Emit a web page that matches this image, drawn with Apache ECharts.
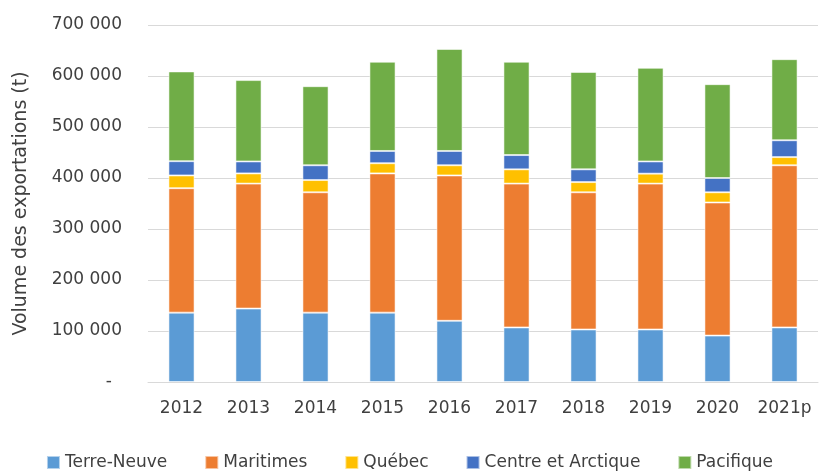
<!DOCTYPE html>
<html>
<head>
<meta charset="utf-8">
<script src="https://cdn.jsdelivr.net/npm/echarts@6/dist/echarts.min.js"></script>
<style>
  html, body { margin: 0; padding: 0; background: #fff; }
  #main { width: 819px; height: 471px; }
</style>
</head>
<body>
<div id="main"></div>
<script>
// années (2021p = provisoire)
const years = ['2012', '2013', '2014', '2015', '2016', '2017', '2018', '2019', '2020', '2021p'];

// volumes en tonnes
const terreNeuve = [136000, 144000, 136000, 136000, 120000, 107000, 103000, 103000, 91000, 107000];
const maritimes  = [244000, 245000, 236000, 273000, 285000, 282000, 269000, 286000, 261000, 318000];
const quebec     = [25000, 20000, 24000, 20000, 20000, 28000, 20000, 19500, 20000, 16000];
const centreArctique = [28000, 23500, 29000, 24000, 28000, 28000, 25000, 24000, 28000, 33000];
const pacifique  = [176000, 159500, 155000, 175000, 200000, 183000, 191000, 183500, 184000, 159000];

const seriesNames = ['Terre-Neuve', 'Maritimes', 'Québec', 'Centre et Arctique', 'Pacifique'];
const seriesData = [terreNeuve, maritimes, quebec, centreArctique, pacifique];
const colors = ['#5B9BD5', '#ED7D31', '#FFC000', '#4472C4', '#70AD47'];

const font = 'DejaVu Sans';
const textColor = '#404040';

function fmt(v) {
    if (v === 0) return '{d|-}';
    return String(v).replace(/\B(?=(\d{3})+(?!\d))/g, ' ');
}

const chart = echarts.init(document.getElementById('main'));

const option = {
    color: colors,
    animation: false,
    textStyle: { fontFamily: font },
    grid: { left: 148, right: 1, top: 25, bottom: 89, containLabel: false },
    legend: {
        bottom: -5,
        left: 'center',
        itemWidth: 13,
        itemHeight: 13,
        itemGap: 37,
        icon: 'rect',
        textStyle: { color: textColor, fontSize: 17, fontFamily: font },
        data: seriesNames
    },
    xAxis: {
        type: 'category',
        data: years,
        axisTick: { show: false },
        axisLine: { lineStyle: { color: '#D9D9D9', width: 1 } },
        axisLabel: { color: textColor, fontSize: 17, fontFamily: font, margin: 18, interval: 0, hideOverlap: false }
    },
    yAxis: {
        type: 'value',
        min: 0,
        max: 700000,
        interval: 100000,
        name: 'Volume des exportations (t)',
        nameLocation: 'middle',
        nameGap: 117,
        nameTextStyle: { color: textColor, fontSize: 19, fontFamily: font },
        axisLine: { show: false },
        axisTick: { show: false },
        splitLine: { lineStyle: { color: '#D9D9D9', width: 1 } },
        axisLabel: {
            color: textColor,
            fontSize: 17,
            fontFamily: font,
            margin: 26,
            formatter: fmt,
            rich: { d: { color: textColor, fontSize: 17, fontFamily: font, padding: [0, 10, 0, 0] } }
        }
    },
    series: seriesNames.map((name, i) => ({
        name: name,
        type: 'bar',
        stack: 'total',
        barWidth: '39%',
        data: seriesData[i],
        itemStyle: { borderColor: 'rgba(255,255,255,0.55)', borderWidth: 1 }
    }))
};

chart.setOption(option);
</script>
</body>
</html>
